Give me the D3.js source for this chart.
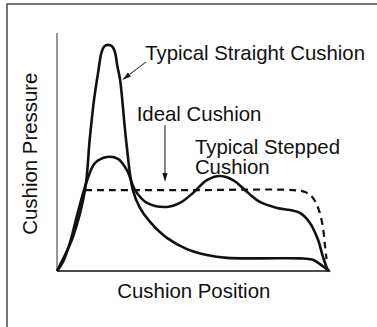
<!DOCTYPE html>
<html>
<head>
<meta charset="utf-8">
<script src="https://cdn.jsdelivr.net/npm/d3@7"></script>
<style>
  html, body { margin: 0; padding: 0; background: #fff; }
  svg { display: block; font-family: "Liberation Sans", Arial, Helvetica, sans-serif; }
</style>
</head>
<body>
<svg id="chart" width="377" height="327"></svg>
<script>
// Cushion position (0 = start of stroke, 100 = end) and relative pressure
const straightX = [0, 2.2, 5.9, 10.3, 12.0, 13.6, 15.2, 16.3, 17.3, 18.8, 20.3, 21.3, 22.2, 23.2, 25.4, 27.9, 30.5, 34.2, 40.4, 47.8, 55.1, 62.5, 74.6, 89.3, 93.8, 96.7, 100];
const straightY = [0, 5.0, 14.5, 34.0, 55.0, 71.8, 84.0, 91.5, 94.3, 95.0, 94.3, 92.0, 86.0, 80.3, 55.0, 34.0, 26.5, 20.6, 13.9, 9.2, 6.7, 5.5, 5.3, 5.3, 4.8, 2.9, 0];

const steppedX = [0, 2.2, 4.8, 7.4, 11.0, 14.0, 18.4, 22.4, 25.7, 28.7, 33.1, 40.4, 45.2, 50.0, 55.1, 59.9, 64.7, 69.9, 74.6, 80.9, 85.7, 89.3, 93.0, 96.0, 97.8, 99.6, 100];
const steppedY = [0, 3.8, 12.0, 23.5, 37.8, 45.4, 47.9, 47.1, 42.4, 34.0, 28.6, 26.9, 28.6, 32.8, 38.2, 39.9, 38.2, 33.2, 29.0, 26.5, 25.6, 24.4, 20.2, 13.0, 5.9, 0.4, 0];

const idealX = [10.3, 50, 86.8, 91.2, 94.1, 96.3, 97.8, 98.5, 99.1];
const idealY = [34.0, 34.0, 34.0, 33.2, 30.7, 25.6, 18.1, 10.9, 5.0];

const labels = ["Typical Straight Cushion", "Ideal Cushion", "Typical Stepped", "Cushion"];
const axisTitles = ["Cushion Position", "Cushion Pressure"];

const svg = d3.select("#chart");
const ink = "#111";

const x = d3.scaleLinear().domain([0, 100]).range([57, 329]);
const y = d3.scaleLinear().domain([0, 100]).range([271, 33]);

// frame around the figure (open at right and bottom)
svg.append("path")
  .attr("d", "M7,327 L7,4 L377,4")
  .attr("fill", "none")
  .attr("stroke", "#4a4a4a")
  .attr("stroke-width", 1.5);

// axes
svg.append("line")
  .attr("x1", x(0)).attr("x2", x(0))
  .attr("y1", y(0)).attr("y2", y(100))
  .attr("stroke", "#333").attr("stroke-width", 1);
svg.append("line")
  .attr("x1", x(0)).attr("x2", x(100.5))
  .attr("y1", y(0)).attr("y2", y(0))
  .attr("stroke", "#111").attr("stroke-width", 1.6);

const line = d3.line()
  .x(d => x(d[0]))
  .y(d => y(d[1]))
  .curve(d3.curveCatmullRom.alpha(0.5));

const zip = (a, b) => a.map((v, i) => [v, b[i]]);

svg.append("path")
  .attr("d", line(zip(idealX, idealY)))
  .attr("fill", "none")
  .attr("stroke", ink)
  .attr("stroke-width", 2.2)
  .attr("stroke-dasharray", "7,5");

svg.append("path")
  .attr("d", line(zip(steppedX, steppedY)))
  .attr("fill", "none")
  .attr("stroke", ink)
  .attr("stroke-width", 2.6)
  .attr("stroke-linejoin", "round");

svg.append("path")
  .attr("d", line(zip(straightX, straightY)))
  .attr("fill", "none")
  .attr("stroke", ink)
  .attr("stroke-width", 2.6)
  .attr("stroke-linejoin", "round");

// leader arrows
function arrow(x1, y1, x2, y2) {
  const ang = Math.atan2(y2 - y1, x2 - x1);
  const len = 9, half = 2.6;
  const bx = x2 - len * Math.cos(ang), by = y2 - len * Math.sin(ang);
  svg.append("line")
    .attr("x1", x1).attr("y1", y1).attr("x2", bx).attr("y2", by)
    .attr("stroke", ink).attr("stroke-width", 1);
  const px = -Math.sin(ang) * half, py = Math.cos(ang) * half;
  svg.append("path")
    .attr("d", `M${x2},${y2} L${bx + px},${by + py} L${bx - px},${by - py} Z`)
    .attr("fill", ink);
}
arrow(x(32.7), y(87.8), x(24.0), y(80.3));
arrow(x(39.7), y(61.3), x(39.7), y(37.4));

// annotation text
const fs = 20.4;
const txt = (s, tx, ty, anchor) => svg.append("text")
  .attr("x", tx).attr("y", ty)
  .attr("text-anchor", anchor || "start")
  .attr("font-size", fs)
  .attr("fill", ink)
  .text(s);

txt(labels[0], x(32.4), 60);
txt(labels[1], x(29.3), 121);
txt(labels[2], x(50.7), 154);
txt(labels[3], x(50.7), 174);

txt(axisTitles[0], x(50.3), 298, "middle");
svg.append("text")
  .attr("transform", `translate(37,${y(49.3)}) rotate(-90)`)
  .attr("text-anchor", "middle")
  .attr("font-size", fs)
  .attr("fill", ink)
  .text(axisTitles[1]);
</script>
</body>
</html>
